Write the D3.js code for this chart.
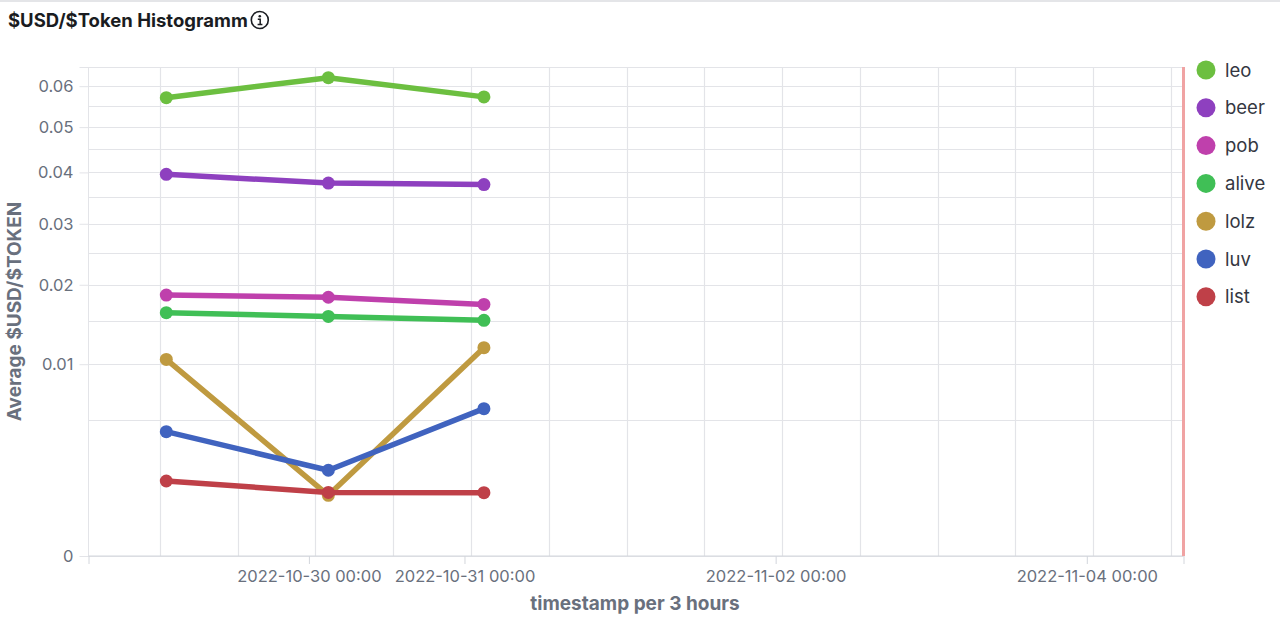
<!DOCTYPE html>
<html>
<head>
<meta charset="utf-8">
<script src="https://cdn.jsdelivr.net/npm/d3@7"></script>
<style>
  html, body { margin: 0; padding: 0; background: #fff; }
  svg { display: block; font-family: Inter, "Noto Sans", sans-serif; }
</style>
</head>
<body>
<svg id="chart" width="1280" height="626"></svg>
<script>
const seriesNames = ["leo", "beer", "pob", "alive", "lolz", "luv", "list"];
const seriesColors = ["#6cbf40", "#8e40bf", "#bf40ac", "#40bf56", "#bf9a40", "#4063bf", "#bf4048"];
const timestamps = ["2022-10-29 02:00", "2022-10-30 03:00", "2022-10-31 03:00"];

const leo = [0.0571, 0.0622, 0.0573];
const beer = [0.0396, 0.0378, 0.0375];
const pob = [0.0185, 0.0182, 0.0172];
const alive = [0.0161, 0.0156, 0.0151];
const lolz = [0.0105, 0.0010, 0.0118];
const luv = [0.0042, 0.0020, 0.0059];
const list = [0.00153, 0.00110, 0.00109];

const yMajorTicks = [0, 0.01, 0.02, 0.03, 0.04, 0.05, 0.06];
const yMinorTicks = [0.005, 0.015, 0.025, 0.035, 0.045, 0.055, 0.065];
const xTickLabels = ["2022-10-30 00:00", "2022-10-31 00:00", "2022-11-02 00:00", "2022-11-04 00:00"];
const xDomain = ["2022-10-28 14:00", "2022-11-04 14:55"];
const gridStart = "2022-10-29 01:00";

const parse = d3.timeParse("%Y-%m-%d %H:%M");
const fmt = d3.timeFormat("%Y-%m-%d %H:%M");

const svg = d3.select("#chart");
const W = +svg.attr("width");

const plot = { left: 88.5, right: 1183.5, top: 67, bottom: 556 };
const gridColor = "#e3e4e8";
const textGray = "#69707d";

const x = d3.scaleTime().domain(xDomain.map(parse)).range([plot.left, plot.right]);
const y = d3.scaleSqrt().domain([0, 0.065]).range([plot.bottom, plot.top]);

// top strip
svg.append("rect").attr("x", 0).attr("y", 0).attr("width", W).attr("height", 2).attr("fill", "#e4e5e8");

// title
const title = svg.append("text")
  .attr("x", 8).attr("y", 26.5)
  .attr("font-size", 18.5).attr("font-weight", 700).attr("fill", "#1a1c21")
  .text("$USD/$Token Histogramm");
const tw = title.node().getComputedTextLength();
const info = svg.append("g").attr("transform", `translate(${8 + tw + 12},20)`);
info.append("circle").attr("r", 8.5).attr("fill", "none").attr("stroke", "#1a1c21").attr("stroke-width", 1.6);
info.append("circle").attr("cx", 0).attr("cy", -3.8).attr("r", 1.3).attr("fill", "#1a1c21");
info.append("path").attr("d", "M-2,-0.8H0.4V4.4M-2.2,4.4H2.6").attr("fill", "none").attr("stroke", "#1a1c21").attr("stroke-width", 1.5);

// vertical grid (12h)
const gridTimes = d3.timeHour.range(parse(gridStart), x.domain()[1], 12);
svg.append("g").selectAll("line").data(gridTimes).join("line")
  .attr("x1", d => Math.round(x(d)) + 0.5).attr("x2", d => Math.round(x(d)) + 0.5)
  .attr("y1", plot.top).attr("y2", plot.bottom)
  .attr("stroke", gridColor).attr("stroke-width", 1.2);

// horizontal grid
svg.append("g").selectAll("line").data(yMajorTicks.concat(yMinorTicks)).join("line")
  .attr("x1", plot.left).attr("x2", plot.right)
  .attr("y1", d => Math.round(y(d)) + 0.5).attr("y2", d => Math.round(y(d)) + 0.5)
  .attr("stroke", gridColor).attr("stroke-width", 1.2);

// y axis
const yAxis = svg.append("g").attr("transform", `translate(${plot.left},0)`)
  .call(d3.axisLeft(y).tickValues(yMajorTicks.concat([0.065])).tickSize(9).tickPadding(6)
    .tickFormat(d => d === 0.065 ? "" : d3.format("~g")(d)));
yAxis.select(".domain").attr("stroke", gridColor).attr("d", `M0,${plot.top}V${plot.bottom}`);
yAxis.selectAll(".tick line").attr("stroke", gridColor);
yAxis.selectAll(".tick text").attr("font-size", 16.5).attr("fill", textGray).attr("font-family", "Inter");

// x axis
const xAxis = svg.append("g").attr("transform", `translate(0,${plot.bottom})`)
  .call(d3.axisBottom(x).tickValues(xTickLabels.map(parse).concat(x.domain())).tickSize(8).tickPadding(6)
    .tickFormat(d => xTickLabels.includes(fmt(d)) ? fmt(d) : ""));
xAxis.select(".domain").attr("stroke", "#d3d6dc").attr("d", `M${plot.left},0H${plot.right}`);
xAxis.selectAll(".tick line").attr("stroke", "#d3d6dc");
xAxis.selectAll(".tick text").attr("font-size", 16.5).attr("fill", textGray).attr("font-family", "Inter");

// axis titles
svg.append("text")
  .attr("x", (plot.left + plot.right) / 2 - 1).attr("y", 609.5)
  .attr("text-anchor", "middle").attr("font-size", 19).attr("font-weight", 700).attr("fill", textGray)
  .text("timestamp per 3 hours");
svg.append("text")
  .attr("transform", `translate(21,${(plot.top + plot.bottom) / 2}) rotate(-90)`)
  .attr("text-anchor", "middle").attr("font-size", 19).attr("font-weight", 700).attr("fill", textGray)
  .text("Average $USD/$TOKEN");

// "now" marker
svg.append("line")
  .attr("x1", x(x.domain()[1])).attr("x2", x(x.domain()[1]))
  .attr("y1", plot.top).attr("y2", plot.bottom)
  .attr("stroke", "#f0a3a3").attr("stroke-width", 3);

// series
const allValues = [leo, beer, pob, alive, lolz, luv, list];
const series = seriesNames.map((name, i) => ({
  name, color: seriesColors[i],
  values: allValues[i].map((v, j) => ({ t: parse(timestamps[j]), v }))
}));

const line = d3.line().x(d => x(d.t)).y(d => y(d.v));
const sg = svg.append("g").selectAll("g").data(series).join("g");
sg.append("path")
  .attr("d", d => line(d.values))
  .attr("fill", "none").attr("stroke", d => d.color)
  .attr("stroke-width", 5.5).attr("stroke-linejoin", "round").attr("stroke-linecap", "round");
sg.selectAll("circle").data(d => d.values.map(v => ({ ...v, color: d.color }))).join("circle")
  .attr("cx", d => x(d.t)).attr("cy", d => y(d.v)).attr("r", 6.5)
  .attr("fill", d => d.color);

// legend
const legend = svg.append("g").selectAll("g").data(series).join("g")
  .attr("transform", (d, i) => `translate(1206,${70 + i * 37.8})`);
legend.append("circle").attr("r", 9.5).attr("fill", d => d.color);
legend.append("text").attr("x", 19).attr("y", 6.5)
  .attr("font-size", 18.5).attr("fill", "#343741")
  .text(d => d.name);
</script>
</body>
</html>
